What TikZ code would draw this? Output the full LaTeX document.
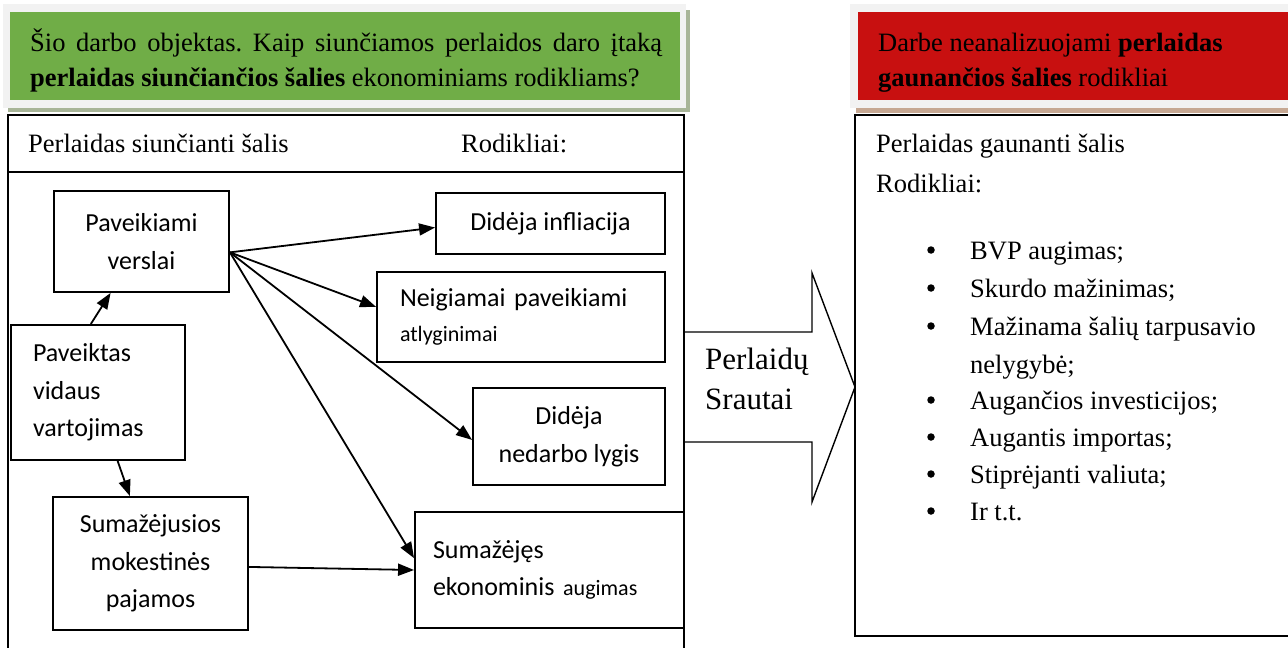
\documentclass[tikz,border=0pt]{standalone}
\usepackage{fontspec}
\setmainfont{Liberation Serif}
\newfontfamily\boxfont{Carlito}
\usetikzlibrary{arrows.meta}
\definecolor{hgreen}{HTML}{70AD47}
\definecolor{hred}{HTML}{C81010}
\definecolor{hframe}{HTML}{F2F2F2}
\definecolor{gshadow}{HTML}{A8B598}
\definecolor{rshadow}{HTML}{C6A893}
\frenchspacing
\begin{document}
\begin{tikzpicture}[x=1pt,y=-1pt,
  serif/.style={font=\fontsize{26.5}{32}\selectfont, inner sep=0pt, anchor=base west},
  bx/.style={draw, line width=1.9pt, inner sep=0pt, font=\boxfont\fontsize{26}{37.5}\selectfont, align=center},
  lbx/.style={bx, align=left},
  arr/.style={line width=1.8pt, -{Triangle[length=16pt,width=12pt]}},
  frm/.style={line width=1.4pt},
  dot/.style={circle, fill=black, inner sep=0pt, minimum size=7.5pt}
]
\useasboundingbox (0,0) rectangle (1288,648);
% green title panel
\fill[gshadow] (8,10) rectangle (690,112);
\fill[hframe] (3,4) rectangle (686,108);
\fill[hgreen] (10,12) rectangle (680,100);
\node[serif] (g1) at (30,51) {\makebox[632pt][s]{Šio darbo objektas. Kaip siunčiamos perlaidos daro įtaką}};
\node[serif] (g2) at (30,86) {\textbf{perlaidas siunčiančios šalies} ekonominiams rodikliams?};
% red title panel
\fill[rshadow] (856,10) rectangle (1292,113);
\fill[hframe] (850,4) rectangle (1292,108);
\fill[hred] (858,12) rectangle (1292,100);
\node[serif] (r1) at (878,51) {Darbe neanalizuojami \textbf{perlaidas}};
\node[serif] (r2) at (878,86) {\textbf{gaunančios šalies} rodikliai};
% left frame
\draw[frm] (8,652) -- (8,115) -- (684,115) -- (684,652);
\draw[frm] (8,172) -- (684,172);
\node[serif] (h1) at (28,152) {Perlaidas siunčianti šalis};
\node[serif] (h2) at (461,152) {Rodikliai:};
% right frame
\draw[frm] (1292,115) -- (855,115) -- (855,636) -- (1292,636);
\node[serif] (h3) at (876,152) {Perlaidas gaunanti šalis};
\node[serif] (h4) at (876,192) {Rodikliai:};
\node[dot] (b1) at (931,250) {};
\node[dot] (b2) at (931,288) {};
\node[dot] (b3) at (931,326) {};
\node[dot] (b4) at (931,400) {};
\node[dot] (b5) at (931,437) {};
\node[dot] (b6) at (931,474) {};
\node[dot] (b7) at (931,511) {};
\node[serif] (l1) at (970,259) {BVP augimas;};
\node[serif] (l2) at (970,297) {Skurdo mažinimas;};
\node[serif] (l3) at (970,335) {Mažinama šalių tarpusavio};
\node[serif] (l3b) at (970,373) {nelygybė;};
\node[serif] (l4) at (970,409) {Augančios investicijos;};
\node[serif] (l5) at (970,446) {Augantis importas;};
\node[serif] (l6) at (970,483) {Stiprėjanti valiuta;};
\node[serif] (l7) at (970,520) {Ir t.t.};
% big arrow
\draw[frm] (684,332) -- (812,332) -- (812,273) -- (855,387) -- (812,502) -- (812,442) -- (684,442);
\node[serif, font=\fontsize{31}{38}\selectfont] (s1) at (705,369) {Perlaidų};
\node[serif, font=\fontsize{31}{38}\selectfont] (s2) at (705,409) {Srautai};
% boxes
\node[bx, minimum width=175pt, minimum height=101pt] (pv) at (141.5,241.5) {Paveikiami\\verslai};
\node[bx, minimum width=229pt, minimum height=61pt] (di) at (550.5,223.5) {Didėja infliacija};
\node[lbx, minimum height=90pt, text width=242pt, inner xsep=23pt] (na) at (521,317) {Neigiamai paveikiami\\[-3pt]{\fontsize{22}{26}\selectfont atlyginimai}};
\node[lbx, minimum height=135pt, text width=130pt, inner xsep=22pt] (vv) at (98,392.5) {Paveiktas\\vidaus\\vartojimas};
\node[bx, minimum width=192pt, minimum height=97pt] (nl) at (569,436.5) {Didėja\\nedarbo lygis};
\node[bx, minimum width=195pt, minimum height=133pt] (mp) at (150.5,563.5) {Sumažėjusios\\mokestinės\\pajamos};
\node[lbx, minimum height=116pt, text width=233pt, inner xsep=18pt] (ea) at (549.5,570) {Sumažėjęs\\ekonominis {\fontsize{22}{26}\selectfont augimas}};
% arrows
\draw[arr] (vv.96.8) -- (pv.239.7);
\draw[arr] (vv.286.5) -- (mp.107.1);
\draw[arr] (pv.353.1) -- (di.182.2);
\draw[arr] (pv.353.1) -- (na.176.4);
\draw[arr] (pv.353.1) -- (nl.182.1);
\draw[arr] (pv.353.1) -- (ea.175.7);
\draw[arr] (mp.358.5) -- (ea.180);
\end{tikzpicture}
\end{document}
